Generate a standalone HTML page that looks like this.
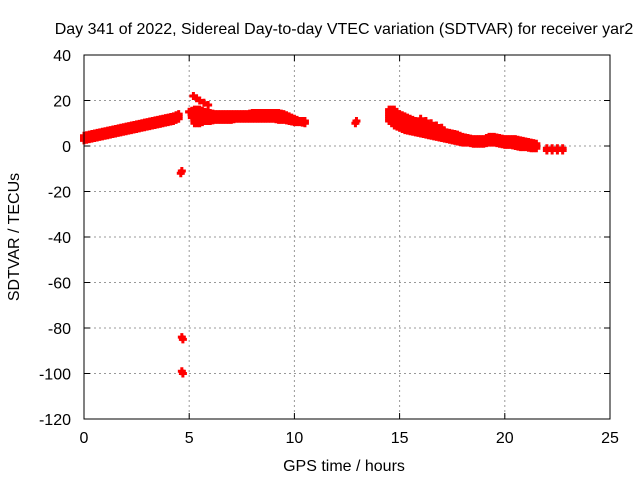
<!DOCTYPE html>
<html><head><meta charset="utf-8"><style>
body{margin:0;background:#fff}
svg text{font-family:"Liberation Sans",sans-serif;font-size:16px;fill:#000}
</style></head><body>
<svg id="c" width="640" height="480">
<text x="344" y="34" text-anchor="middle">Day 341 of 2022, Sidereal Day-to-day VTEC variation (SDTVAR) for receiver yar2</text>
<text x="344" y="471" text-anchor="middle">GPS time / hours</text>
<text transform="translate(19,237) rotate(-90)" text-anchor="middle">SDTVAR / TECUs</text>
<g id="grid"></g><g id="marks"></g>
<rect x="84" y="55" width="526" height="364" fill="none" stroke="#000"/>
</svg>
<script>
const xTicks=[0,5,10,15,20,25];
const yTicks=[40,20,0,-20,-40,-60,-80,-100,-120];
const tA=[0,0.25,0.5,0.75,1,1.25,1.5,1.75,2,2.25,2.5,2.75,3,3.25,3.5,3.75,4,4.25,4.5];
const aUp=[4.5,5,5.5,6,6.5,7,7.5,8,8.5,9,9.5,10,10.5,11,11.5,12,12.5,13,14];
const aLo=[2.5,3,3.5,4,4.5,5,5.5,6,6.5,7,7.5,8,8.5,9,9.5,10,10.5,11,12];
const tB=[5,5.25,5.5,5.75,6,6.25,6.5,6.75,7,7.25,7.5,7.75,8,8.25,8.5,8.75,9,9.25,9.5,9.75,10,10.25,10.5];
const bUp=[15,16,16,15,14.5,14,14,14,14,14,14,14,14.5,14.5,14.5,14.5,14.5,14.5,14,13,12,11,11];
const bLo=[15,10,10,11,11,11.5,11.5,11.5,11.5,12,12,12,12,12,12,12,12,11.5,11.5,11,10.5,10.5,10];
const tC=[14.5,14.75,15,15.25,15.5,15.75,16,16.25,16.5,16.75,17,17.25,17.5,17.75,18,18.25,18.5,18.75,19,19.25,19.5,19.75,20,20.25,20.5,20.75,21,21.25,21.5];
const cUp=[16,16,14,13,12,11,10,9,8,7.5,7,6,5.5,5,4,3.5,3,3,3,4,4,3.5,3,3,3,2.5,2,1.5,1];
const cLo=[11,9,8,7,6.5,6,5.5,5,4.5,4,3.5,3,2.5,2,1.5,1.5,1,1,1,1.5,1.5,1,0.5,0.5,0,-0.5,-0.5,-1,-1];
const extraT=[4.65,4.6,4.65,4.7,4.65,4.7,5.2,5.35,5.5,5.7,5.9,12.9,12.95,16,16.25,16.5,16.75,17,22,22.25,22.5,22.75,22,22.25,22.5,22.75];
const extraV=[-11,-12,-84,-85,-99,-100,22,21,20,19,18,10,11,12,11,10,9,8,-1,-1,-1,-1,-2,-2,-2,-2];
const X=v=>84+v*526/25, Y=v=>55+(40-v)*364/160;
const NS="http://www.w3.org/2000/svg";
const svg=document.getElementById('c'),g=document.getElementById('grid'),m=document.getElementById('marks');
function el(t,a,p){const e=document.createElementNS(NS,t);for(const k in a)e.setAttribute(k,a[k]);p.appendChild(e);return e;}
xTicks.forEach(v=>{
 if(v>0&&v<25){const l=el('line',{x1:X(v),x2:X(v),y1:55,y2:419,stroke:'#999','stroke-dasharray':'2,3'},g);
 
 }
 el('line',{x1:X(v),x2:X(v),y1:419,y2:413,stroke:'#000'},g);
 el('line',{x1:X(v),x2:X(v),y1:55,y2:61,stroke:'#000'},g);
 const t=el('text',{x:X(v),y:443,'text-anchor':'middle'},svg);t.textContent=v;
 
 
});
yTicks.forEach(v=>{
 if(v<40&&v>-120){const l=el('line',{x1:84,x2:610,y1:Y(v),y2:Y(v),stroke:'#999','stroke-dasharray':'2,3'},g);
 
 }
 el('line',{x1:84,x2:90,y1:Y(v),y2:Y(v),stroke:'#000'},g);
 el('line',{x1:604,x2:610,y1:Y(v),y2:Y(v),stroke:'#000'},g);
 const t=el('text',{x:71,y:Y(v)+6,'text-anchor':'end'},svg);t.textContent=v;
 
 
});
function pt(t,v){
 const x=X(t),y=Y(v);
 const p=el('path',{d:`M${x-4},${y}H${x+4}M${x},${y-4}V${y+4}`,stroke:'#f00','stroke-width':3},m);
 
 
}
function band(ts,up,lo){
 ts.forEach((t,i)=>{
  const nt=i<ts.length-1?ts[i+1]:t;
  for(let s=0;s<(i<ts.length-1?2:1);s++){
   const tt=t+(nt-t)*s/2;
   const a=up[i]+(i<ts.length-1?(up[i+1]-up[i])*s/2:0), b=lo[i]+(i<ts.length-1?(lo[i+1]-lo[i])*s/2:0);
   const n=Math.max(1,Math.ceil((a-b)/1));
   for(let k=0;k<=n;k++)pt(tt,b+(a-b)*k/n);
  }
 });
}
band(tA,aUp,aLo);band(tB,bUp,bLo);band(tC,cUp,cLo);
extraT.forEach((t,i)=>pt(t,extraV[i]));
</script>
</body></html>
